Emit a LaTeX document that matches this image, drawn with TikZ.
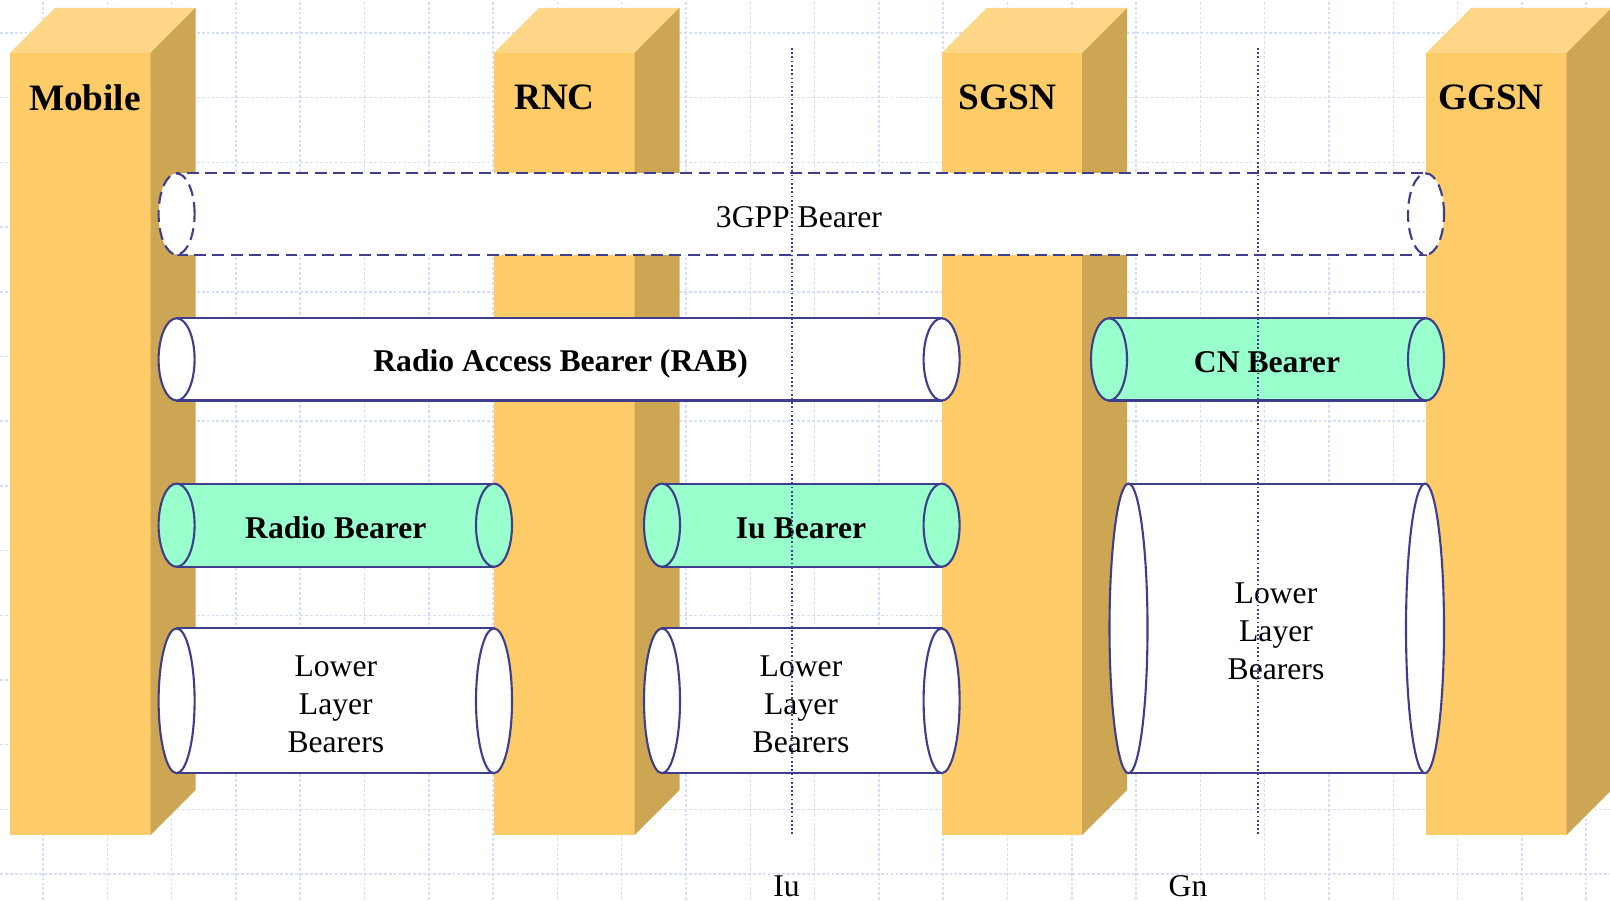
\documentclass[tikz,border=0pt]{standalone}
\usepackage{fontspec}
\setmainfont{Liberation Serif}
\definecolor{pFront}{RGB}{253,203,103}
\definecolor{pTop}{RGB}{254,214,136}
\definecolor{pSide}{RGB}{205,166,83}
\definecolor{pBlue}{RGB}{62,62,140}
\definecolor{pGreen}{RGB}{153,255,204}
\definecolor{pGrid}{RGB}{212,221,250}
\tikzset{
    bearer/.style={draw=pBlue, line width=0.6pt, fill=white},
    green bearer/.style={bearer, fill=pGreen},
    bearer text/.style={font=\fontsize{9}{10.8}\selectfont, align=center, inner sep=0pt},
    bold text/.style={bearer text, font=\fontsize{9}{10.8}\selectfont\bfseries},
    pillar text/.style={font=\fontsize{10.6}{12}\selectfont\bfseries, inner sep=0pt},
    bg grid/.style={pGrid, line width=0.45pt, dash pattern=on 0.8pt off 0.6pt},
    iface/.style={pBlue, line width=0.6pt, dash pattern=on 0.5pt off 0.7pt}
}

\begin{document}
\begin{tikzpicture}[x=0.1mm,y=0.1mm]
\useasboundingbox (0,0) rectangle (1610,900);
\draw[bg grid,xshift=4.3mm,yshift=2.59mm] (-43,-26) grid[xstep=6.43mm,ystep=6.47mm] (1567,874);
\fill[pFront] (10,65) rectangle (150.5,847);
\fill[pTop] (10,847) -- (55,892) -- (195.5,892) -- (150.5,847) -- cycle;
\fill[pSide] (150.5,65) -- (150.5,847) -- (195.5,892) -- (195.5,110) -- cycle;
\fill[pFront] (494,65) rectangle (634.5,847);
\fill[pTop] (494,847) -- (539,892) -- (679.5,892) -- (634.5,847) -- cycle;
\fill[pSide] (634.5,65) -- (634.5,847) -- (679.5,892) -- (679.5,110) -- cycle;
\fill[pFront] (941.5,65) rectangle (1082,847);
\fill[pTop] (941.5,847) -- (986.5,892) -- (1127,892) -- (1082,847) -- cycle;
\fill[pSide] (1082,65) -- (1082,847) -- (1127,892) -- (1127,110) -- cycle;
\fill[pFront] (1426,65) rectangle (1566.5,847);
\fill[pTop] (1426,847) -- (1471,892) -- (1611.5,892) -- (1566.5,847) -- cycle;
\fill[pSide] (1566.5,65) -- (1566.5,847) -- (1611.5,892) -- (1611.5,110) -- cycle;
\node[pillar text] (mobile) at (85,802.5) {Mobile};
\node[pillar text] (rnc) at (554.5,802.5) {RNC};
\node[pillar text] (sgsn) at (1007.3,802.5) {SGSN};
\node[pillar text] (ggsn) at (1491,802.5) {GGSN};
\draw[bearer,dash pattern=on 3.4pt off 1.8pt] (176.6,645.4) rectangle (1426,726.6);
\draw[bearer,dash pattern=on 3.4pt off 1.8pt] (176.6,686) ellipse (18 and 40.6);
\draw[bearer,dash pattern=on 3.4pt off 1.8pt] (1426,686) ellipse (18 and 40.6);
\node[bearer text] (gppbearer) at (799,682.4) {3GPP Bearer};
\draw[bearer] (176.6,499.5) rectangle (941.6,581.7);
\draw[bearer] (176.6,540.6) ellipse (18 and 41.1);
\draw[bearer] (941.6,540.6) ellipse (18 and 41.1);
\node[bold text] (rab) at (560.6,536) {Radio Access Bearer (RAB)};
\draw[green bearer] (1109,499.5) rectangle (1426,581.7);
\draw[green bearer] (1109,540.6) ellipse (18 and 41.1);
\draw[green bearer] (1426,540.6) ellipse (18 and 41.1);
\node[bold text] (cnbearer) at (1267,537.6) {CN Bearer};
\draw[green bearer] (176.6,333.2) rectangle (494,416.4);
\draw[green bearer] (176.6,374.8) ellipse (18 and 41.6);
\draw[green bearer] (494,374.8) ellipse (18 and 41.6);
\node[bold text] (radiobearer) at (335.8,372) {Radio Bearer};
\draw[green bearer] (662,333.2) rectangle (941.6,416.4);
\draw[green bearer] (662,374.8) ellipse (18 and 41.6);
\draw[green bearer] (941.6,374.8) ellipse (18 and 41.6);
\node[bold text] (iubearer) at (801,372) {Iu Bearer};
\draw[bearer] (176.6,126.8) rectangle (494,271.6);
\draw[bearer] (176.6,199.2) ellipse (18 and 72.4);
\draw[bearer] (494,199.2) ellipse (18 and 72.4);
\node[bearer text] (lowerradio) at (335.8,195.6) {Lower\\Layer\\Bearers};
\draw[bearer] (662,126.8) rectangle (941.6,271.6);
\draw[bearer] (662,199.2) ellipse (18 and 72.4);
\draw[bearer] (941.6,199.2) ellipse (18 and 72.4);
\node[bearer text] (loweriu) at (801,195.6) {Lower\\Layer\\Bearers};
\draw[bearer] (1128.5,126.8) rectangle (1425,416.4);
\draw[bearer] (1128.5,271.6) ellipse (19 and 144.8);
\draw[bearer] (1425,271.6) ellipse (19 and 144.8);
\node[bearer text] (lowercn) at (1276,268.5) {Lower\\Layer\\Bearers};
\draw[iface] (791.7,852) -- (791.7,65);
\draw[iface] (1258,852) -- (1258,65);
\node[bearer text,anchor=base] (iu) at (786.5,3.5) {Iu};
\node[bearer text,anchor=base] (gn) at (1188,3.5) {Gn};
\end{tikzpicture}
\end{document}
